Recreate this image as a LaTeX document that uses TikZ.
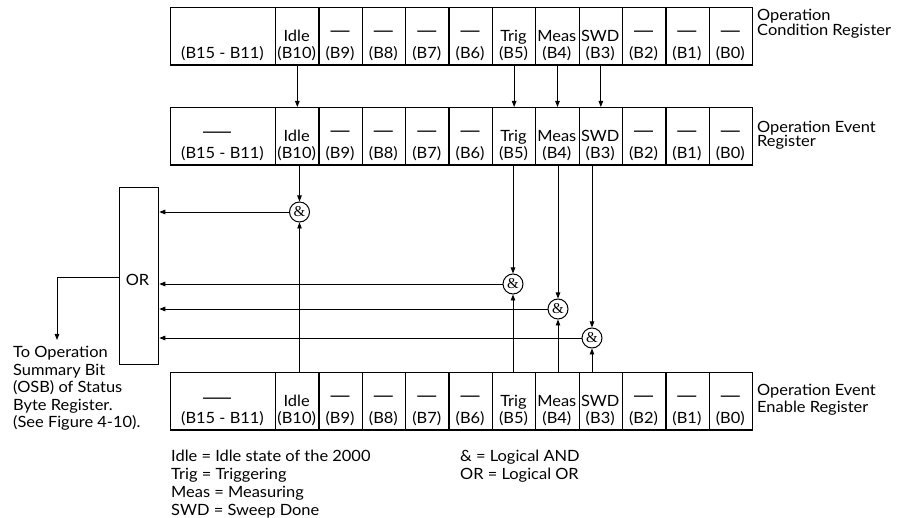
\documentclass[tikz,border=0pt]{standalone}
\usepackage{fontspec}
\setmainfont{Lato}[FakeStretch=1.06]
\newfontfamily\gatefont{Liberation Serif}
\newfontfamily\dashfont{Liberation Sans}
\usetikzlibrary{arrows.meta}
\def\noname{N}
\newcommand\regrow[2]{%
  \node[cellbox, minimum width=105pt] (#1big) at (170,#2) {};
  \node[txt] (#1bigbit) at (222.5,{#2+52}) {(B15 - B11)};
  \foreach \b/\t [count=\k from 0] in {10/Idle,9/N,8/N,7/N,6/N,5/Trig,4/Meas,3/SWD,2/N,1/N,0/N}{
    \node[cellbox, minimum width=43.36pt] (#1\b) at ({275+\k*43.36},#2) {};
    \node[txt] (#1\b bit) at ({275+(\k+0.5)*43.36},{#2+52}) {(B\b)};
    \ifx\t\noname
      \node[dsh] (#1\b name) at ({275+(\k+0.5)*43.36},{#2+30}) {—};
    \else
      \node[txt] (#1\b name) at ({275+(\k+0.5)*43.36},{#2+34.5}) {\t};
    \fi
  }
}
\begin{document}
\begin{tikzpicture}[x=1pt,y=-1pt,
  cellbox/.style={draw, line width=1.3pt, inner sep=0pt, anchor=north west, minimum height=57.5pt},
  txt/.style={inner sep=0pt, anchor=base, font=\fontsize{15.5}{18}\selectfont},
  dsh/.style={inner sep=0pt, anchor=base, font=\dashfont\fontsize{19}{19}\selectfont},
  ltxt/.style={inner sep=0pt, anchor=base west, font=\fontsize{15.5}{18}\selectfont},
  gate/.style={draw, circle, line width=1pt, minimum size=20pt, inner sep=0pt, font=\gatefont\fontsize{15}{15}\selectfont},
  conn/.style={line width=0.9pt, -{Triangle[length=6pt,width=4.5pt]}}
]
\useasboundingbox (0,0) rectangle (897,518);

% registers
\regrow{c}{7}
\regrow{m}{107}
\regrow{e}{372}
\node[dsh] (mbigdash) at (217,{107+31}) {\scalebox{1.47}[1]{—}};
\node[dsh] (ebigdash) at (217,{372+31}) {\scalebox{1.47}[1]{—}};

% register labels
\node[ltxt] (lc1) at (757,21) {Operation};
\node[ltxt] (lc2) at (757,36) {Condition Register};
\node[ltxt] (lm1) at (757,132.5) {Operation Event};
\node[ltxt] (lm2) at (757,147) {Register};
\node[ltxt] (le1) at (757,395.5) {Operation Event};
\node[ltxt] (le2) at (757,413) {Enable Register};

% OR box
\node[draw, line width=1.3pt, inner sep=0pt, anchor=north west, minimum width=39pt, minimum height=177pt] (orbox) at (119,187) {};
\node[txt, anchor=center] (orlabel) at (137.5,280) {OR};

% AND gates
\node[gate] (gIdle) at (299.5,212) {\&};
\node[gate] (gTrig) at (513,284) {\&};
\node[gate] (gMeas) at (558,309) {\&};
\node[gate] (gSWD) at (592,338) {\&};

% condition -> event
\foreach \b in {10,5,4,3}{
  \draw[conn] (c\b.south) -- (m\b.north);
}
% event -> gates
\draw[conn] (m10.south -| gIdle) -- (gIdle.north);
\draw[conn] (m5.south -| gTrig) -- (gTrig.north);
\draw[conn] (m4.south -| gMeas) -- (gMeas.north);
\draw[conn] (m3.south -| gSWD) -- (gSWD.north);
% enable -> gates
\draw[conn] (e10.north -| gIdle) -- (gIdle.south);
\draw[conn] (e5.north -| gTrig) -- (gTrig.south);
\draw[conn] (e4.north -| gMeas) -- (gMeas.south);
\draw[conn] (e3.north -| gSWD) -- (gSWD.south);
% gates -> OR
\foreach \g in {gIdle,gTrig,gMeas,gSWD}{
  \draw[conn] (\g.west) -- (\g.west -| orbox.east);
}

% OR output
\coordinate (osbturn) at (57,277);
\coordinate (osb) at (57,340);
\draw[conn] (orbox.west |- osbturn) -- (osbturn) -- (osb);
\node[ltxt] (t1) at (13,358) {To Operation};
\node[ltxt] (t2) at (13,375.5) {Summary Bit};
\node[ltxt] (t3) at (13,393) {(OSB) of Status};
\node[ltxt] (t4) at (13,410.5) {Byte Register.};
\node[ltxt] (t5) at (13,428) {(See Figure 4-10).};

% legend
\node[ltxt] (l1) at (171,461.5) {Idle = Idle state of the 2000};
\node[ltxt] (l2) at (171,479.5) {Trig = Triggering};
\node[ltxt] (l3) at (171,497.5) {Meas = Measuring};
\node[ltxt] (l4) at (171,515.5) {SWD = Sweep Done};
\node[ltxt] (l5) at (460,461.5) {\& = Logical AND};
\node[ltxt] (l6) at (460,479.5) {OR = Logical OR};
\end{tikzpicture}
\end{document}
